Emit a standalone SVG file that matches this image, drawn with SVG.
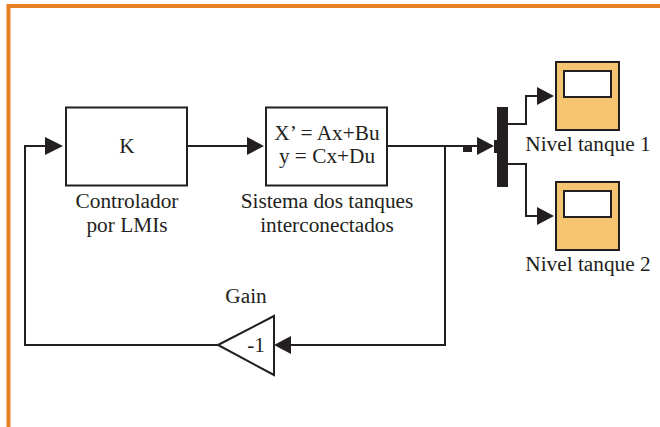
<svg xmlns="http://www.w3.org/2000/svg" width="660" height="427" viewBox="0 0 660 427">
<style>
text{font-family:"Liberation Serif","Times New Roman",serif;font-size:21.300px;fill:#231f20;text-anchor:middle}
.b{fill:#fff;stroke:#231f20;stroke-width:2}
.s{fill:#f5c470;stroke:#231f20;stroke-width:2}
.w{fill:none;stroke:#231f20;stroke-width:2}
.h{fill:#231f20;stroke:none}
</style>
<rect width="660" height="427" fill="#fff"/>
<path d="M660 6H8.500V427" fill="none" stroke="#e77f24" stroke-width="4"/>
<g id="connectors">
<path class="w" d="M187 146H250"/><polygon class="h" points="264,146 247,137 247,155"/>
<path class="w" d="M387 146H480"/><path class="w" d="M445 146V345H290"/>
<polygon class="h" points="274,345 291,336 291,354"/>
<path class="w" d="M218 345H25V146H50"/><polygon class="h" points="63,146 45,137 45,155"/>
<polygon class="h" points="494,146 477,137 477,155"/>
<rect class="h" x="463" y="147" width="9" height="5"/>
<rect class="h" x="494" y="140" width="5" height="13"/>
<path class="w" d="M508 124H526V96H540"/><polygon class="h" points="554,96 537,87 537,105"/>
<path class="w" d="M508 164H526V216H540"/><polygon class="h" points="554,216 537,207 537,225"/>
</g>
<g id="controlador"><rect class="b" x="66" y="107.500" width="121" height="78"/><text x="127" y="153">K</text><text x="127" y="208">Controlador</text><text x="127" y="232">por LMIs</text></g>
<g id="sistema"><rect class="b" x="266" y="107.500" width="121" height="78"/><text x="327" y="140">X’ = Ax+Bu</text><text x="327" y="163">y = Cx+Du</text><text x="327" y="208">Sistema dos tanques</text><text x="327" y="232">interconectados</text></g>
<g id="mux"><rect class="h" x="497" y="107" width="11" height="80"/></g>
<g id="scope1"><rect class="s" x="556" y="62" width="63" height="68"/><rect class="b" x="564" y="71" width="47" height="26"/><text x="588" y="151">Nivel tanque 1</text></g>
<g id="scope2"><rect class="s" x="556" y="182" width="63" height="68"/><rect class="b" x="564" y="191" width="47" height="26"/><text x="588" y="271">Nivel tanque 2</text></g>
<g id="gain"><polygon class="b" points="218,345 274,316 274,375"/><text x="246" y="303">Gain</text><text x="256" y="352">-1</text></g>
</svg>
